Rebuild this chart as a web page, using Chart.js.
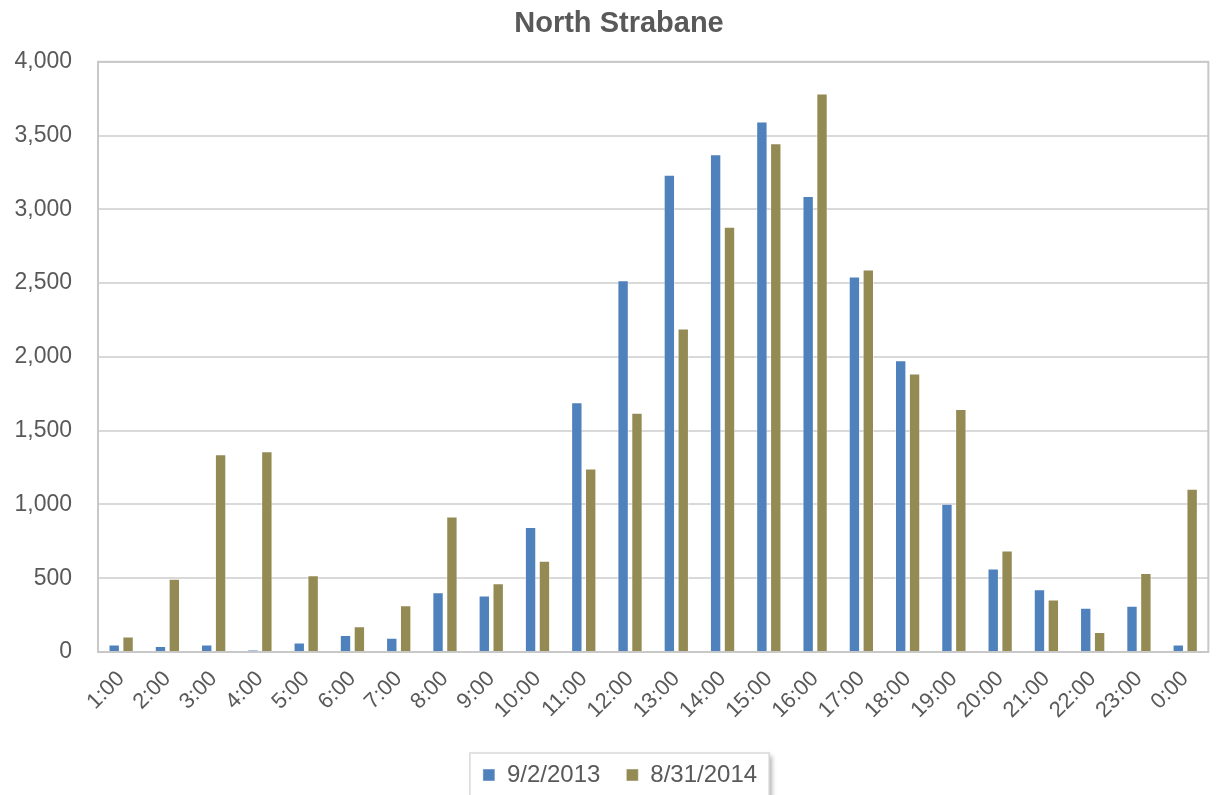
<!DOCTYPE html>
<html>
<head>
<meta charset="utf-8">
<script src="https://cdn.jsdelivr.net/npm/chart.js@4"></script>
<style>
  html, body { margin: 0; padding: 0; background: #fff; }
  #wrap { width: 1218px; height: 795px; }
</style>
</head>
<body>
<div id="wrap"><canvas id="hourly"></canvas></div>
<script>
// hourly counts for the two days
const hours = ['1:00', '2:00', '3:00', '4:00', '5:00', '6:00', '7:00', '8:00', '9:00', '10:00', '11:00', '12:00',
    '13:00', '14:00', '15:00', '16:00', '17:00', '18:00', '19:00', '20:00', '21:00', '22:00', '23:00', '0:00'];
const day2013 = [50, 40, 50, 15, 65, 115, 97, 405, 383, 848, 1693, 2519,
    3235, 3374, 3595, 3090, 2545, 1978, 1005, 566, 425, 300, 313, 50];
const day2014 = [105, 497, 1340, 1360, 520, 175, 317, 918, 466, 618, 1243, 1621,
    2193, 2882, 3448, 3785, 2593, 1887, 1647, 688, 355, 136, 535, 1106];
const seriesNames = ['9/2/2013', '8/31/2014'];
const yMax = 4000;
const yStep = 500;

const grey = '#595959';
const font = 'Liberation Sans, Arial, sans-serif';

// frame around the plot; title and boxed legend nudged right
const framePlugin = {
    id: 'frame',
    afterLayout(chart) {
        const lg = chart.legend;
        lg.top += 2;
        lg.bottom += 2;
        lg.left += 14;
        lg.right += 14;
        const t = chart.titleBlock;
        if (t) {
            t.left += 13;
            t.right += 13;
        }
    },
    beforeDatasetsDraw(chart) {
        const { ctx, chartArea: a } = chart;
        ctx.save();
        ctx.strokeStyle = '#c8c8c8';
        ctx.lineWidth = 2;
        ctx.strokeRect(a.left, a.top, a.right - a.left, a.bottom - a.top);
        ctx.restore();
    },
    beforeDraw(chart) {
        const lg = chart.legend;
        if (!lg || !lg.legendHitBoxes.length) return;
        const boxes = lg.legendHitBoxes;
        const left = Math.min(...boxes.map(b => b.left)) - 13;
        const right = Math.max(...boxes.map(b => b.left + b.width)) + 12;
        const top = 753;
        const { ctx } = chart;
        ctx.save();
        ctx.shadowColor = 'rgba(0,0,0,0.35)';
        ctx.shadowBlur = 5;
        ctx.shadowOffsetX = 3;
        ctx.shadowOffsetY = 3;
        ctx.fillStyle = '#fff';
        ctx.fillRect(left, top, right - left, 60);
        ctx.shadowColor = 'transparent';
        ctx.strokeStyle = '#d9d9d9';
        ctx.lineWidth = 1.5;
        ctx.strokeRect(left, top, right - left, 60);
        ctx.restore();
    }
};

new Chart(document.getElementById('hourly'), {
    type: 'bar',
    data: {
        labels: hours,
        datasets: [{
            label: seriesNames[0],
            data: day2013,
            backgroundColor: '#4F81BD',
            borderColor: 'rgba(255,255,255,0.45)',
            borderWidth: 1
        }, {
            label: seriesNames[1],
            data: day2014,
            backgroundColor: '#948A54',
            borderColor: 'rgba(255,255,255,0.45)',
            borderWidth: 1
        }]
    },
    options: {
        responsive: true,
        maintainAspectRatio: false,
        animation: false,
        layout: { padding: { left: 0, right: 6, top: 0, bottom: 0 } },
        datasets: {
            bar: { categoryPercentage: 0.6, barPercentage: 0.82 }
        },
        plugins: {
            title: {
                display: true,
                text: 'North Strabane',
                color: grey,
                font: { family: font, size: 29, weight: 'bold' },
                padding: { top: 7, bottom: 20 }
            },
            legend: {
                position: 'bottom',
                labels: {
                    color: grey,
                    font: { family: font, size: 24 },
                    boxWidth: 12,
                    boxHeight: 12,
                    padding: 26
                }
            },
            tooltip: { enabled: false }
        },
        scales: {
            x: {
                grid: { display: false, drawTicks: false },
                border: { display: false },
                ticks: {
                    color: grey,
                    font: { family: font, size: 22 },
                    maxRotation: 45,
                    minRotation: 45,
                    padding: 14,
                    autoSkip: false
                },
                afterFit(scale) { scale.height = 83; }
            },
            y: {
                min: 0,
                max: yMax,
                grid: { color: '#d9d9d9', lineWidth: 2, drawTicks: false },
                border: { display: false },
                ticks: {
                    stepSize: yStep,
                    color: grey,
                    font: { family: font, size: 23 },
                    padding: 26,
                    callback: v => v.toLocaleString('en-US')
                },
                afterFit(scale) { scale.width = 98; }
            }
        }
    },
    plugins: [framePlugin]
});
</script>
</body>
</html>
